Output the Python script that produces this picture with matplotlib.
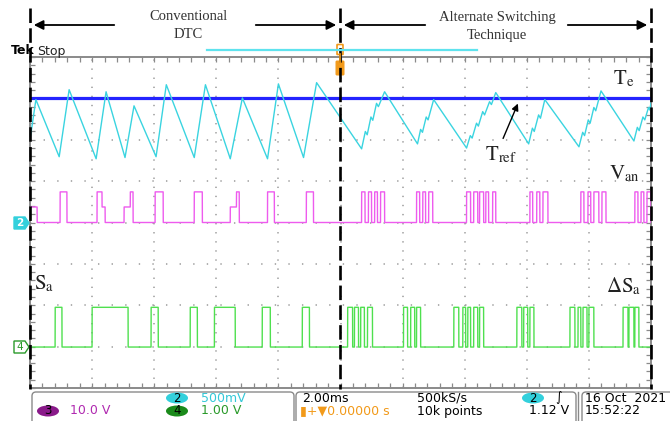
import numpy as np
import matplotlib.pyplot as plt
from matplotlib.patches import FancyBboxPatch, Ellipse, Polygon

plt.rcParams['mathtext.fontset'] = 'stix'

# time axis: 2 ms/div, 10 divisions ; vertical in divisions (-4..4)
# Te (torque) trace vertices
te_t = [0.0, 0.19, 0.94, 1.26, 2.13, 2.45, 3.06, 3.35, 4.06, 4.39, 5.29, 5.65,
        6.45, 6.84, 7.65, 8.0, 8.81, 9.23,
        10.68, 10.80, 10.86, 10.98, 11.04, 11.16, 11.22, 11.42,
        12.48, 12.58, 12.64, 12.76, 12.82, 13.0,
        14.06, 14.18, 14.24, 14.38, 14.44, 14.58, 14.64, 14.80, 14.86, 15.0,
        16.06, 16.18, 16.24, 16.38, 16.44, 16.58,
        17.68, 17.80, 17.86, 17.98, 18.04, 18.16, 18.22, 18.39,
        19.45, 19.56, 19.62, 19.74, 19.80, 19.92, 19.96, 20.0]
te_v = [2.0, 2.97, 1.59, 3.21, 1.54, 3.16, 1.57, 2.82, 1.59, 3.33, 1.57, 3.33,
        1.54, 3.01, 1.54, 3.35, 1.57, 3.38,
        1.78, 2.20, 2.12, 2.55, 2.47, 2.88, 2.80, 3.16,
        1.90, 2.25, 2.18, 2.55, 2.48, 2.97,
        1.80, 2.10, 2.04, 2.40, 2.33, 2.68, 2.60, 2.92, 2.85, 3.14,
        1.90, 2.28, 2.20, 2.60, 2.52, 2.97,
        1.83, 2.18, 2.10, 2.48, 2.40, 2.78, 2.70, 3.18,
        1.97, 2.30, 2.22, 2.55, 2.48, 2.78, 2.72, 2.89]
tref = 3.0

# Van pulses (ch2), ms
van_hi_on = [0.97, 2.16, 3.23, 4.03, 5.29, 6.65, 7.65, 8.90,
             10.68, 10.90, 11.10, 11.29, 12.45, 12.65, 12.84,
             14.06, 14.29, 14.48, 14.68, 14.90, 16.10, 16.32, 16.52,
             17.74, 17.97, 18.16, 18.42, 19.48, 19.68, 19.87]
van_hi_off = [1.19, 2.32, 3.32, 4.29, 5.55, 6.74, 7.87, 9.13,
              10.79, 11.00, 11.19, 11.42, 12.55, 12.74, 12.97,
              14.19, 14.42, 14.61, 14.77, 15.00, 16.19, 16.42, 16.68,
              17.84, 18.06, 18.32, 18.55, 19.58, 19.77, 20.0]
van_mid_on = [0.0, 2.32, 3.03, 6.45]
van_mid_off = [0.23, 2.42, 3.23, 6.65]
van_base, van_mid, van_hi = 0.0, 0.375, 0.74

# Sa / delta Sa switching (ch4), ms
sa_on = [0.81, 2.0, 3.90, 5.16, 5.94, 7.48, 8.77,
         10.23, 10.45, 10.65, 10.87, 12.03, 12.26, 12.45,
         13.65, 13.94, 14.10, 14.29, 14.48, 15.68, 15.90, 16.10,
         17.39, 17.65, 17.81, 18.0, 19.10, 19.29, 19.48]
sa_off = [1.03, 3.16, 4.13, 5.39, 6.61, 7.74, 9.0,
          10.39, 10.58, 10.77, 11.03, 12.16, 12.39, 12.58,
          13.81, 14.03, 14.19, 14.42, 14.61, 15.84, 16.03, 16.23,
          17.55, 17.74, 17.94, 18.16, 19.26, 19.45, 19.61]
sa_base, sa_hi = -3.01, -2.05

t = np.linspace(0, 20, 10001)


def pulses(on, off, lo, hi, y=None):
    if y is None:
        y = np.full_like(t, lo)
    for a, b in zip(on, off):
        y[(t >= a) & (t < b)] = hi
    return y


van = pulses(van_mid_on, van_mid_off, van_base, van_mid)
van = pulses(van_hi_on, van_hi_off, van_base, van_hi, van)
sa = pulses(sa_on, sa_off, sa_base, sa_hi)

W, H = 670, 421
fig = plt.figure(figsize=(6.7, 4.21), dpi=100)
ax = fig.add_axes([30 / W, 33 / H, 621 / W, 331 / H])
ax.set_xlim(0, 20)
ax.set_ylim(-4, 4)

# scope graticule
for xi in range(1, 10):
    ax.axvline(xi * 2, color='#9a9a9a', lw=1.1, ls=(0, (0.9, 5.05)), zorder=1)
for yi in range(-3, 4):
    ax.axhline(yi, color='#9a9a9a', lw=1.1, ls=(0, (0.9, 8.0)), zorder=1)
ax.set_xticks(np.arange(0, 20.01, 0.4))
ax.set_yticks(np.arange(-4, 4.01, 0.2))
ax.set_xticklabels([])
ax.set_yticklabels([])
ax.tick_params(direction='in', length=3.5, width=0.9, color='#8a8a8a',
               top=True, right=True, bottom=True, left=True)
for s in ax.spines.values():
    s.set_color('#8a8a8a')
    s.set_linewidth(1.4)

ax.plot(t, sa, color='#4fe04f', lw=1.0, zorder=3)
ax.plot(t, van, color='#ee5bee', lw=1.0, zorder=3)
ax.axhline(tref, color='#2424ff', lw=2.3, zorder=4)
ax.plot(te_t, te_v, color='#3ad4e0', lw=1.0, zorder=5)

# overlay in pixel coordinates for annotations / status bar
ov = fig.add_axes([0, 0, 1, 1], zorder=10)
ov.set_xlim(0, W)
ov.set_ylim(H, 0)
ov.axis('off')
ov.patch.set_alpha(0)

for x in [30, 340, 651]:
    ov.plot([x, x], [8, 389], color='black', lw=1.9, ls=(0, (5.5, 2)))

arr = dict(arrowstyle='-|>', color='black', lw=1.3, mutation_scale=14)
ov.annotate('', xy=(31, 25), xytext=(117, 25), arrowprops=arr)
ov.annotate('', xy=(339, 25), xytext=(253, 25), arrowprops=arr)
ov.annotate('', xy=(341, 25), xytext=(428, 25), arrowprops=arr)
ov.annotate('', xy=(650, 25), xytext=(565, 25), arrowprops=arr)
serif = 'Liberation Serif'
ov.text(188, 17, 'Conventional', ha='center', va='center', fontsize=10.5,
        family=serif, color='#333333')
ov.text(188, 35, 'DTC', ha='center', va='center', fontsize=10.5,
        family=serif, color='#333333')
ov.text(497, 17, 'Alternate Switching', ha='center', va='center',
        fontsize=10.5, family=serif, color='#333333')
ov.text(497, 35, 'Technique', ha='center', va='center', fontsize=10.5,
        family=serif, color='#333333')

ov.text(11, 51, 'Tek', fontsize=9, fontweight='bold', va='center', ha='left')
ov.text(37, 51, 'Stop', fontsize=9, va='center', ha='left', color='#222222')
ov.plot([207, 477], [50, 50], color='#5fe3ee', lw=1.6)
# trigger position marker
ov.add_patch(FancyBboxPatch((337.5, 45), 5, 9, boxstyle='round,pad=0.5',
                            fc='white', ec='#f29a1a', lw=1.2))
ov.add_patch(FancyBboxPatch((337, 62), 6, 12, boxstyle='round,pad=0.8',
                            fc='#f29a1a', ec='#f29a1a'))
ov.plot([340, 340], [54, 64], color='#f29a1a', lw=1.2)

# trace labels
lab = dict(fontsize=15, color='#222222', ha='left', va='center')
ov.text(613, 79, r'$\mathrm{T}_{\mathrm{e}}$', **lab)
ov.text(485, 155, r'$\mathrm{T}_{\mathrm{ref}}$', **lab)
ov.text(609, 174, r'$\mathrm{V}_{\mathrm{an}}$', **lab)
ov.text(34, 284, r'$\mathrm{S}_{\mathrm{a}}$', **lab)
ov.text(606, 286, r'$\Delta\mathrm{S}_{\mathrm{a}}$', **lab)
ov.annotate('', xy=(519, 101), xytext=(502, 141),
            arrowprops=dict(arrowstyle='-|>', color='black', lw=1.0,
                            mutation_scale=10))

# channel ground markers
ov.add_patch(Polygon([[14, 217], [25, 217], [29, 223], [25, 229], [14, 229]],
                     closed=True, fc='#33d0dc', ec='#33d0dc'))
ov.text(20, 223, '2', fontsize=7.5, ha='center', va='center', color='white',
        fontweight='bold')
ov.add_patch(Polygon([[14, 341], [25, 341], [29, 347], [25, 353], [14, 353]],
                     closed=True, fc='white', ec='#2a9a2a', lw=1.0))
ov.text(20, 347, '4', fontsize=7.5, ha='center', va='center', color='#2a9a2a')

# status bar
box = dict(boxstyle='round,pad=0,rounding_size=4', fc='white', ec='#8a8a8a',
           lw=1.0)
ov.add_patch(FancyBboxPatch((32, 392), 262, 34, **box))
ov.add_patch(FancyBboxPatch((296, 392), 280, 34, **box))
ov.add_patch(FancyBboxPatch((582, 392), 95, 34, **box))
ov.plot([578, 578], [392, 421], color='#8a8a8a', lw=1.0)
sb = dict(fontsize=9, va='center', ha='left', family='DejaVu Sans')
ov.add_patch(Ellipse((48, 411), 22, 11, fc='#8a1a8a'))
ov.text(48, 411, '3', color='black', ha='center', va='center', fontsize=8.5)
ov.text(70, 411, '10.0 V', **dict(sb, color='#b02ab0'))
ov.add_patch(Ellipse((177, 398), 22, 11, fc='#33d0dc'))
ov.text(177, 398, '2', color='black', ha='center', va='center', fontsize=8.5)
ov.text(201, 398, '500mV', **dict(sb, color='#33c8d8'))
ov.add_patch(Ellipse((177, 411), 22, 11, fc='#1a8a1a'))
ov.text(177, 411, '4', color='black', ha='center', va='center', fontsize=8.5)
ov.text(201, 411, '1.00 V', **dict(sb, color='#2a9a2a'))
ov.text(302, 398, '2.00ms', **sb)
ov.text(300, 411, '\u25ae+\u25bc0.00000 s', **dict(sb, color='#f29a1a'))
ov.text(417, 398, '500kS/s', **sb)
ov.text(417, 411, '10k points', **sb)
ov.add_patch(Ellipse((533, 398), 22, 11, fc='#33d0dc'))
ov.text(533, 398, '2', color='black', ha='center', va='center', fontsize=8.5)
ov.text(555, 398, '\u222b', **sb)
ov.text(529, 411, '1.12 V', **sb)
ov.text(585, 398, '16 Oct  2021', **sb)
ov.text(585, 411, '15:52:22', **sb)

fig.savefig('out.png', dpi=100)
